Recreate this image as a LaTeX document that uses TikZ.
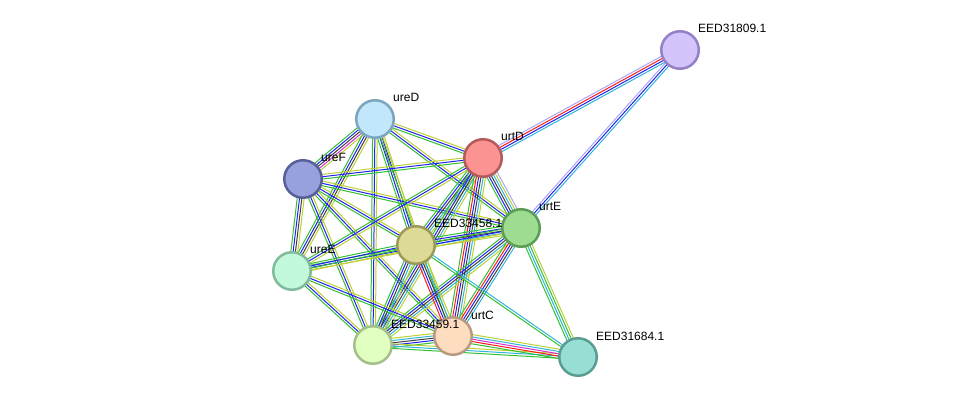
\documentclass[tikz,border=0pt]{standalone}
\usepackage{fontspec}
\setmainfont{Liberation Sans}
\usetikzlibrary{calc}
\pgfdeclarelayer{background}
\pgfdeclarelayer{labels}
\pgfsetlayers{background,main,labels}
\definecolor{colN}{HTML}{33C033}
\definecolor{colF}{HTML}{FF1A1A}
\definecolor{colO}{HTML}{2222F0}
\definecolor{colX}{HTML}{404040}
\definecolor{colE}{HTML}{D030D0}
\definecolor{colD}{HTML}{30B4DC}
\definecolor{colT}{HTML}{BCD034}
\definecolor{colH}{HTML}{A8A8F8}
\tikzset{
  cN/.style={draw=colN}, cF/.style={draw=colF}, cO/.style={draw=colO},
  cX/.style={draw=colX}, cE/.style={draw=colE}, cD/.style={draw=colD},
  cT/.style={draw=colT}, cH/.style={draw=colH},
  prot/.style={circle, minimum size=37.5pt, line width=2.5pt, inner sep=0pt},
  lab/.style={anchor=base west, inner sep=0pt, font=\fontsize{12}{14}\selectfont},
}
\newcommand\edge[3]{%
  \foreach \cc [count=\ii] in {#3} {\xdef\nn{\ii}}%
  \foreach \cc [count=\ii] in {#3} {%
    \pgfmathsetmacro\off{(\ii-(\nn+1)/2)*2.3}%
    \draw[\cc, line width=1pt] ($(#1)!\off pt!90:(#2)$) -- ($(#2)!\off pt!-90:(#1)$);
  }%
}
\newcommand\prot[5]{%
  \node[prot, fill=#3, draw=#4] (#1) at #2 {};
  \begin{pgfonlayer}{labels}
  \node[lab] (#1-l) at ($#2+(18,-17)$) {#5};
  \end{pgfonlayer}
}
\begin{document}
\begin{tikzpicture}[x=1pt,y=-1pt]
\useasboundingbox (0,0) rectangle (976,403);
\definecolor{f809}{HTML}{D3C5FC}\definecolor{b809}{HTML}{9580C4}
\definecolor{fureD}{HTML}{C2E6FA}\definecolor{bureD}{HTML}{7CA6BE}
\definecolor{furtD}{HTML}{FC9393}\definecolor{burtD}{HTML}{B45A5A}
\definecolor{fureF}{HTML}{98A1DD}\definecolor{bureF}{HTML}{58609A}
\definecolor{furtE}{HTML}{9EDC91}\definecolor{burtE}{HTML}{5C9C55}
\definecolor{f458}{HTML}{DCDA94}\definecolor{b458}{HTML}{9C9A5A}
\definecolor{fureE}{HTML}{C2F9DB}\definecolor{bureE}{HTML}{82BA9C}
\definecolor{f459}{HTML}{E2FFC2}\definecolor{b459}{HTML}{A4C08A}
\definecolor{furtC}{HTML}{FDDCC0}\definecolor{burtC}{HTML}{B89A80}
\definecolor{f684}{HTML}{97DFD4}\definecolor{b684}{HTML}{5A9C93}
\prot{n809}{(680,50)}{f809}{b809}{EED31809.1}
\prot{ureD}{(375,119)}{fureD}{bureD}{ureD}
\prot{urtD}{(483,158)}{furtD}{burtD}{urtD}
\prot{ureF}{(303,179)}{fureF}{bureF}{ureF}
\prot{urtE}{(521,228)}{furtE}{burtE}{urtE}
\prot{n458}{(416,245)}{f458}{b458}{EED33458.1}
\prot{ureE}{(292,271)}{fureE}{bureE}{ureE}
\prot{n459}{(373,345)}{f459}{b459}{EED33459.1}
\prot{urtC}{(453,336)}{furtC}{burtC}{urtC}
\prot{n684}{(578,357)}{f684}{b684}{EED31684.1}
\begin{pgfonlayer}{background}
\edge{n809}{urtD}{cH,cF,cO,cD}
\edge{n809}{urtE}{cH,cO,cD}
\edge{ureD}{ureF}{cN,cO,cX,cE,cT}
\edge{ureD}{urtD}{cN,cO,cT}
\edge{ureD}{urtE}{cN,cO,cT}
\edge{ureD}{n458}{cN,cO,cO,cT}
\edge{ureD}{ureE}{cN,cO,cX,cT}
\edge{ureD}{n459}{cN,cO,cT}
\edge{ureD}{urtC}{cN,cT}
\edge{ureF}{urtD}{cN,cO,cT}
\edge{ureF}{urtE}{cN,cO,cT}
\edge{ureF}{n458}{cN,cO,cT}
\edge{ureF}{ureE}{cN,cO,cX,cT}
\edge{ureF}{n459}{cN,cO,cT}
\edge{ureF}{urtC}{cN,cO,cT}
\edge{urtD}{urtE}{cN,cO,cX,cD,cT,cH}
\edge{urtD}{n458}{cN,cO,cX,cD,cT}
\edge{urtD}{ureE}{cN,cO,cT}
\edge{urtD}{n459}{cN,cO,cX,cD,cT}
\edge{urtD}{urtC}{cN,cF,cO,cX,cD,cT}
\edge{urtE}{n458}{cN,cO,cX,cD,cT}
\edge{urtE}{ureE}{cN,cO,cT}
\edge{urtE}{n459}{cN,cO,cX,cD,cT}
\edge{urtE}{urtC}{cN,cF,cO,cX,cD}
\edge{urtE}{n684}{cN,cD,cN,cT}
\edge{n458}{ureE}{cN,cO,cN,cT}
\edge{n458}{n459}{cN,cO,cX,cD,cT}
\edge{n458}{urtC}{cF,cO,cX,cD,cT}
\edge{n458}{n684}{cN,cD}
\edge{ureE}{n459}{cN,cO,cT}
\edge{ureE}{urtC}{cN,cO,cT}
\edge{n459}{urtC}{cN,cO,cX,cD,cT}
\edge{n459}{n684}{cN,cD,cT}
\edge{urtC}{n684}{cN,cF,cE,cD,cT}
\end{pgfonlayer}
\end{tikzpicture}
\end{document}
